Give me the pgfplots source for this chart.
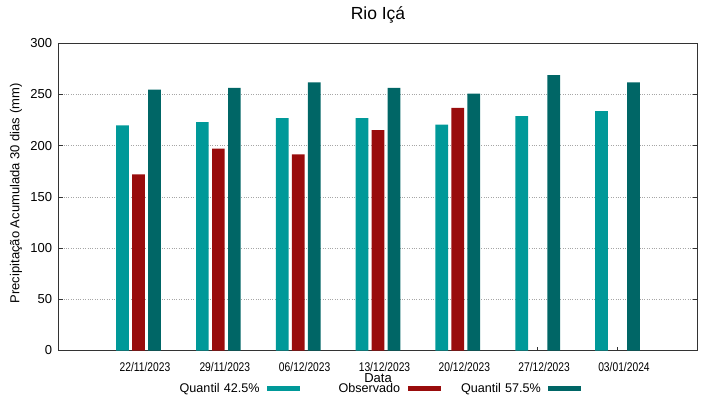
\documentclass[border=0pt]{standalone}
\usepackage{fontspec}
\setmainfont{Liberation Sans}
\usepackage{pgfplots}
\pgfplotsset{compat=1.18}
\definecolor{qlow}{RGB}{0,153,153}
\definecolor{obs}{RGB}{153,12,12}
\definecolor{qhigh}{RGB}{0,102,102}
\newcommand\sx[1]{\scalebox{0.815}[1]{#1}}
\pgfplotsset{barleg/.style={legend image code/.code={\fill[##1,draw=none] (0pt,-2.7pt) rectangle (33pt,2.7pt);}}}
\begin{document}
\begin{tikzpicture}[x=1pt,y=1pt]
\useasboundingbox (0,0) rectangle (719,399);
\begin{axis}[
  at={(58.7pt,48.5pt)}, anchor=south west,
  width=638.6pt, height=307.4pt, scale only axis,
  xmin=-1, xmax=7, ymin=0, ymax=300,
  ybar=3.3pt, bar width=12.7pt,
  xtick={0,1,2,3,4,5,6},
  xticklabels={\sx{22/11/2023},\sx{29/11/2023},\sx{06/12/2023},\sx{13/12/2023},\sx{20/12/2023},\sx{27/12/2023},\sx{03/01/2024}},
  ytick={0,50,100,150,200,250,300},
  xtick pos=bottom, ytick pos=both,
  tick align=inside, major tick length=4pt,
  tick style={black!80, line width=0.6pt},
  axis line style={black!80, line width=0.9pt},
  ymajorgrids, grid style={dotted, gray!70, line width=0.6pt},
  /pgf/number format/assume math mode=true,
  yticklabel style={font=\fontsize{13}{15}\selectfont, inner sep=0pt, xshift=-6.5pt},
  xticklabel style={font=\fontsize{12.6}{14}\selectfont, inner sep=0pt, yshift=-11.5pt, xshift=6.5pt},
  title={Rio Içá},
  title style={font=\fontsize{17.5}{20}\selectfont, at={(axis description cs:0.5,1)}, anchor=base, yshift=17.7pt, inner sep=0pt},
  xlabel={Data},
  xlabel style={font=\fontsize{13}{15}\selectfont, at={(axis description cs:0.5,0)}, anchor=center, yshift=-27.5pt, inner sep=0pt},
  ylabel={Precipitação Acumulada 30 dias (mm)},
  ylabel style={font=\fontsize{13}{15}\selectfont, at={(axis description cs:-0.0669,0.511)}, anchor=center, inner sep=0pt},
  legend columns=3, legend plot pos=right,
  legend style={draw=none, fill=none, at={(axis description cs:0.169,-0.1236)}, anchor=west, inner sep=0pt, column sep=7.5pt, font=\fontsize{12.6}{14}\selectfont},
]
\addplot[fill=qlow, draw=none, barleg] coordinates {(0,219.6) (1,222.8) (2,226.7) (3,226.7) (4,220.5) (5,228.7) (6,233.5)};
\addlegendentry[text width=92.7pt, align=right, inner sep=0pt]{Quantil 42.5\%}
\addplot[fill=obs, draw=none, barleg] coordinates {(0,172) (1,197) (2,191.5) (3,215) (4,236.8)};
\addlegendentry[text width=92.7pt, align=right, inner sep=0pt]{Observado}
\addplot[fill=qhigh, draw=none, barleg] coordinates {(0,254.7) (1,256.3) (2,261.6) (3,256.3) (4,250.8) (5,268.7) (6,261.6)};
\addlegendentry[text width=92.7pt, align=right, inner sep=0pt]{Quantil 57.5\%}
\end{axis}
\end{tikzpicture}
\end{document}
